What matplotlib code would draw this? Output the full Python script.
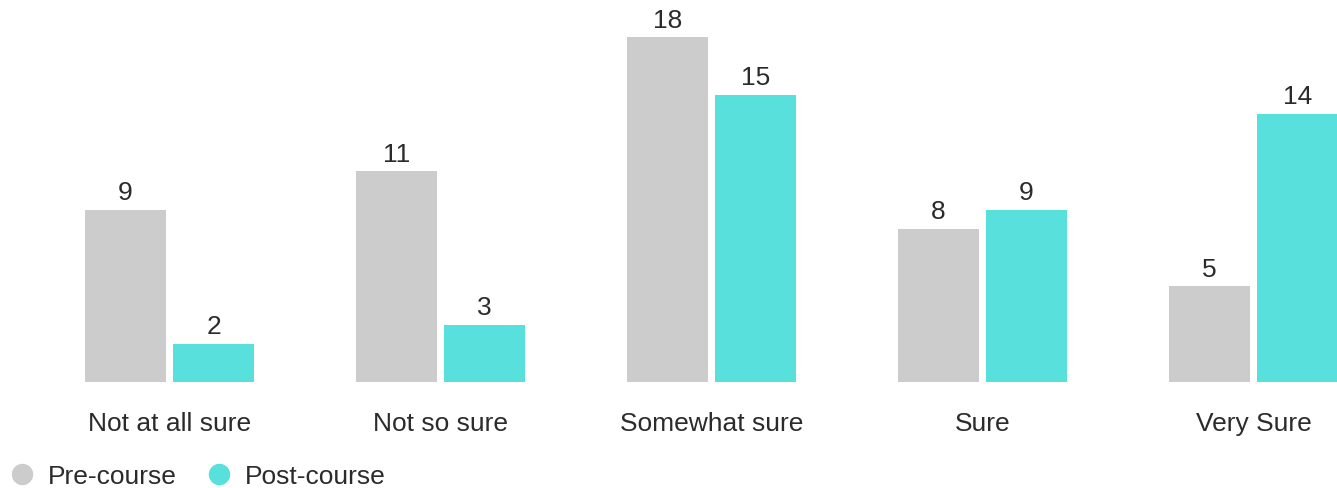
import matplotlib.pyplot as plt
from matplotlib.lines import Line2D
import numpy as np

plt.rcParams["font.family"] = ["Liberation Sans", "DejaVu Sans"]

categories = ["Not at all sure", "Not so sure", "Somewhat sure", "Sure", "Very Sure"]
pre_course = [9, 11, 18, 8, 5]
post_course = [2, 3, 15, 9, 14]
series_names = ["Pre-course", "Post-course"]
colors = ["#cccccc", "#58e0dc"]
text_color = "#2b2b2b"

fig = plt.figure(figsize=(13.37, 4.89), dpi=100)
ax = fig.add_axes([0, 0.2168, 1, 0.7832])

x = np.arange(len(categories))
width = 0.298
offset = 0.1625
bars_pre = ax.bar(x - offset, pre_course, width, color=colors[0])
bars_post = ax.bar(x + offset, post_course, width, color=colors[1])

for bars in (bars_pre, bars_post):
    ax.bar_label(bars, padding=4, fontsize=19, color=text_color)

ax.set_xlim(-0.626, 4.308)
ax.set_ylim(0, 20)
ax.set_xticks(x)
ax.set_xticklabels(categories, fontsize=19, color=text_color)
ax.tick_params(axis="x", length=0, pad=21)
ax.set_yticks([])
for s in ax.spines.values():
    s.set_visible(False)
ax.patch.set_alpha(0)

handles = [Line2D([], [], marker="o", linestyle="", markersize=14.4,
                  markerfacecolor=c, markeredgecolor=c) for c in colors]
fig.legend(handles, series_names, loc="center left", bbox_to_anchor=(0.0066, 12 / 489),
           ncol=2, frameon=False, fontsize=19, handlelength=1.0, handletextpad=0.485,
           columnspacing=1.09, labelcolor=text_color, borderaxespad=0, borderpad=0)

fig.savefig("out.png", dpi=100)
